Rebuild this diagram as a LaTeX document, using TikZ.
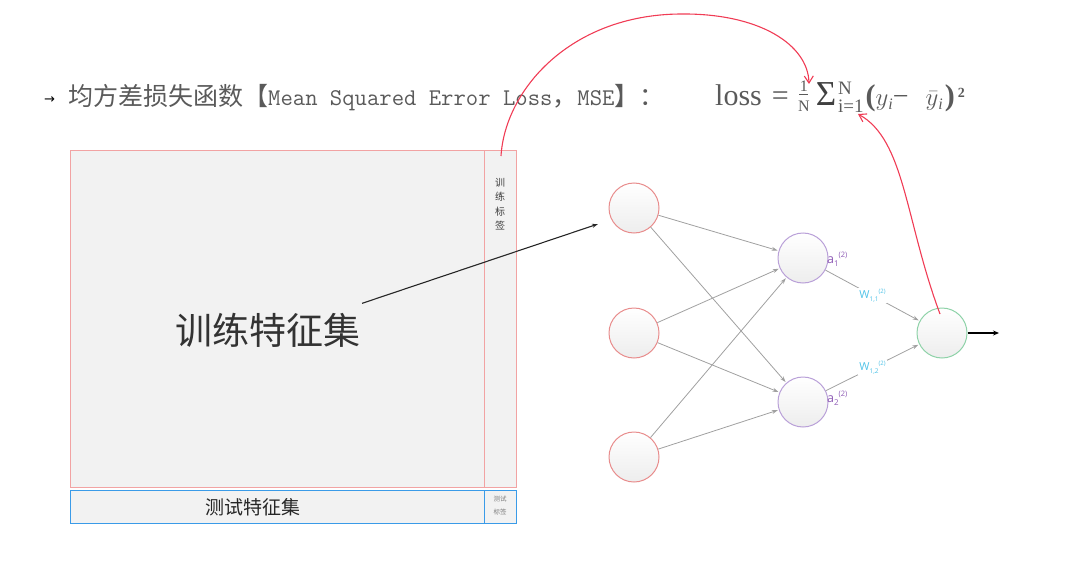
\documentclass[tikz,border=0pt]{standalone}
\usepackage{fontspec}
\setmainfont{Liberation Serif}
\newfontfamily\cjk{Noto Sans CJK SC}
\newfontfamily\lab{Open Sans}
\newfontfamily\sym{DejaVu Sans}
\usetikzlibrary{arrows.meta}
\definecolor{txtgray}{HTML}{5A5A5A}
\definecolor{boxfill}{HTML}{F2F2F2}
\definecolor{boxred}{HTML}{F2A3A3}
\definecolor{boxblue}{HTML}{3A9BE8}
\definecolor{inred}{HTML}{E88C8C}
\definecolor{hidpurple}{HTML}{B9A0D8}
\definecolor{outgreen}{HTML}{8ED2A8}
\definecolor{wcyan}{HTML}{4FC3E8}
\definecolor{apurple}{HTML}{8E5BB5}
\definecolor{penred}{HTML}{F03C55}
\definecolor{edgegray}{HTML}{A0A0A0}
\tikzset{
  trainbox/.style={draw=boxred, line width=0.9pt, fill=boxfill, inner sep=0pt, anchor=north west},
  testbox/.style={draw=boxblue, line width=1.3pt, fill=boxfill, inner sep=0pt, anchor=north west},
  neuron/.style={circle, minimum size=50pt, inner sep=0pt, line width=1pt, top color=white, bottom color=gray!14},
  inneuron/.style={neuron, draw=inred},
  hidneuron/.style={neuron, draw=hidpurple},
  outneuron/.style={neuron, draw=outgreen},
  edge/.style={draw=edgegray, line width=0.8pt, -{Stealth[length=6pt,width=4pt]}, shorten >=1pt},
  wlabel/.style={text=wcyan, fill=white, inner sep=1pt, font=\lab\fontsize{11}{11}\selectfont},
  alabel/.style={text=apurple, font=\lab\fontsize{12.5}{12.5}\selectfont, anchor=west, inner sep=1pt},
  penarrow/.style={draw=penred, line width=1.1pt, -{Straight Barb[length=7pt,width=9pt]}},
}
\newcommand{\wsub}[2]{#1\raisebox{-3pt}{\fontsize{6.5}{6.5}\selectfont #2}\raisebox{5pt}{\fontsize{6}{6}\selectfont (2)}}
\newcommand{\asub}[2]{#1\raisebox{-3pt}{\fontsize{8}{8}\selectfont #2}\raisebox{6pt}{\fontsize{7.5}{7.5}\selectfont (2)}}
\newcommand{\subi}{\raisebox{-4pt}{\fontsize{16}{16}\selectfont\itshape i}}
\begin{document}
\begin{tikzpicture}[x=1pt,y=-1pt]
\useasboundingbox (0,0) rectangle (1075,575);

% title line
\node[anchor=base west, inner sep=0pt, font=\sym\fontsize{13}{13}\selectfont] (bullet) at (44,104) {→};
\node[anchor=base west, inner sep=0pt, text=txtgray] (title) at (68,106)
  {{\cjk\fontsize{25}{27}\selectfont 均方差损失函数【}{\ttfamily\fontsize{24}{26}\selectfont Mean Squared Error Loss}{\cjk\fontsize{25}{27}\selectfont ，}{\ttfamily\fontsize{24}{26}\selectfont MSE}{\cjk\fontsize{25}{27}\selectfont 】：}};
\node[anchor=base west, inner sep=0pt, text=txtgray] (formula) at (715,106)
  {\fontsize{30}{32}\selectfont loss\hspace{10pt}=\hspace{8pt}%
   {\fontsize{16}{16}\selectfont\makebox[14pt]{\raisebox{14pt}{1}}\hspace{-14pt}\makebox[14pt]{\raisebox{11pt}{\rule{9pt}{0.7pt}}}\hspace{-14pt}\makebox[14pt]{\raisebox{-6pt}{N}}}%
   \hspace{5pt}{\color{black!75}\fontsize{35}{35}\selectfont Σ}\hspace{2pt}%
   {\fontsize{19}{19}\selectfont\makebox[0pt][l]{\raisebox{11pt}{N}}\raisebox{-7pt}{i=1}}%
   \hspace{2pt}\textbf{(}{\fontsize{28}{30}\selectfont$y$\subi−\hspace{17pt}$\bar{y}$\subi}\hspace{2pt}\textbf{)}\hspace{3pt}\raisebox{8pt}{\fontsize{14}{14}\selectfont\textbf{2}}};

% data boxes
\node[trainbox, minimum width=414pt, minimum height=337pt] (trainfeatbox) at (70,150) {};
\node[trainbox, minimum width=32pt, minimum height=337pt] (trainlabbox) at (484,150) {};
\node[testbox, minimum width=414pt, minimum height=33pt] (testfeatbox) at (70,490) {};
\node[testbox, minimum width=32pt, minimum height=33pt] (testlabbox) at (484,490) {};

\node[font=\cjk\fontsize{37}{40}\selectfont, text=black!80] (trainfeat) at (268,330) {训练特征集};
\node[font=\cjk\fontsize{19}{20}\selectfont, text=black!85] (testfeat) at (253,507) {测试特征集};
\node[font=\cjk\fontsize{10}{14.5}\selectfont, text=black!75, align=center] (trainlab) at (500,204) {训\\练\\标\\签};
\node[font=\cjk\fontsize{6.5}{13}\selectfont, text=black!50, align=center] (testlab) at (500,506) {测试\\标签};

% network
\node[inneuron] (in1) at (634,208) {};
\node[inneuron] (in2) at (634,333) {};
\node[inneuron] (in3) at (634,457) {};
\node[hidneuron] (h1) at (803,258) {};
\node[hidneuron] (h2) at (803,402) {};
\node[outneuron] (out) at (942,333) {};

\foreach \i in {1,2,3}{
  \foreach \j in {1,2}{
    \draw[edge] (in\i) -- (h\j);
  }
}
\draw[edge] (h1) -- node[wlabel, pos=0.5] (w11) {\wsub{W}{1,1}} (out);
\draw[edge] (h2) -- node[wlabel, pos=0.5] (w12) {\wsub{W}{1,2}} (out);
\node[alabel] (a1) at (826,259) {\asub{a}{1}};
\node[alabel] (a2) at (826,398) {\asub{a}{2}};

\coordinate (outtip) at (999,333);
\draw[line width=1.2pt, -{Stealth[length=6pt,width=5pt]}] (out) -- (outtip);

% black pointer from training features
\coordinate (ptr) at (598,224);
\path (trainfeat.north east) ++(-2,-6) coordinate (ptrstart);
\draw[line width=1.1pt, black!85, -{Stealth[length=6pt,width=4pt]}] (ptrstart) -- (ptr);

% red pen arrows
\coordinate (r1s) at (501,156);
\coordinate (r1e) at (809,84);
\draw[penarrow] (r1s) .. controls (505,90) and (570,15) .. (680,14) .. controls (760,13) and (808,45) .. (r1e);
\coordinate (r2s) at (940,314);
\coordinate (r2e) at (858,114);
\draw[penarrow] (r2s) .. controls (905,220) and (905,140) .. (r2e);
\end{tikzpicture}
\end{document}
